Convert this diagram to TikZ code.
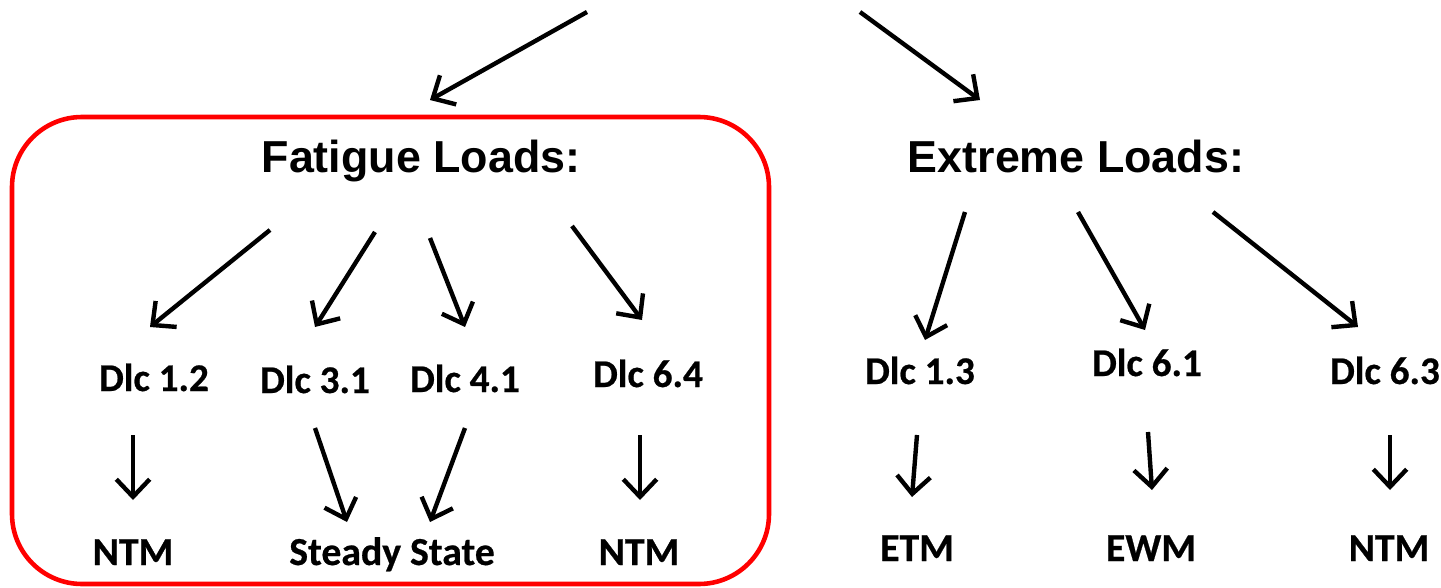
\documentclass[tikz,border=0pt]{standalone}
\usepackage{fontspec}
\setmainfont{Carlito}[BoldFeatures={FakeBold=0.6}]
\newfontfamily\arialfont{Liberation Sans}
\usetikzlibrary{arrows.meta}

\tikzset{
    arr/.style={line width=2.5pt, -{Straight Barb[length=10pt,width=19pt]}},
    title/.style={font=\arialfont\bfseries\fontsize{25.5}{30}\selectfont, anchor=base},
    dlc/.style={font=\bfseries\fontsize{22.3}{26}\selectfont, anchor=base},
    model/.style={font=\bfseries\fontsize{22.6}{27}\selectfont, anchor=base}
}

\begin{document}
\begin{tikzpicture}[x=0.02cm, y=-0.02cm]
    \useasboundingbox (0,0) rectangle (1441,588);
    % red frame round the fatigue branch
    \draw[red, line width=2.6pt, rounded corners=1.4cm] (12,117) rectangle (769,584);

    \node[title] (fatigue) at (421,173) {Fatigue Loads:};
    \node[title] (extreme) at (1076,173) {Extreme Loads:};

    \node[dlc] (dlc12) at (154,391) {Dlc 1.2};
    \node[dlc] (dlc31) at (315,393) {Dlc 3.1};
    \node[dlc] (dlc41) at (465,392) {Dlc 4.1};
    \node[dlc] (dlc64) at (648,387) {Dlc 6.4};
    \node[dlc] (dlc13) at (920,384) {Dlc 1.3};
    \node[dlc] (dlc61) at (1147,376) {Dlc 6.1};
    \node[dlc] (dlc63) at (1385,384) {Dlc 6.3};

    \node[model] (ntma) at (133,565) {NTM};
    \node[model] (steady) at (392,565) {Steady State};
    \node[model] (ntmb) at (639,565) {NTM};
    \node[model] (etm) at (917,561) {ETM};
    \node[model] (ewm) at (1151,561) {EWM};
    \node[model] (ntmc) at (1389,561) {NTM};

    % arrow ends
    \coordinate (top1) at (587,12);
    \coordinate (top2) at (860,12);

    \draw[arr] (top1) -- (430,100);
    \draw[arr] (top2) -- (980,100);

    \draw[arr] (270,230) -- (150,327);
    \draw[arr] (375,232) -- (315,327);
    \draw[arr] (430,238) -- (465,327);
    \draw[arr] (572,226) -- (642,320);
    \draw[arr] (965,212) -- (925,340);
    \draw[arr] (1078,212) -- (1145,330);
    \draw[arr] (1213,212) -- (1358,327);

    \draw[arr] (133,435) -- (133,500);
    \draw[arr] (315,428) -- (347,522);
    \draw[arr] (465,428) -- (430,522);
    \draw[arr] (640,435) -- (640,500);
    \draw[arr] (917,435) -- (912,497);
    \draw[arr] (1148,432) -- (1152,490);
    \draw[arr] (1390,435) -- (1390,490);
\end{tikzpicture}
\end{document}
